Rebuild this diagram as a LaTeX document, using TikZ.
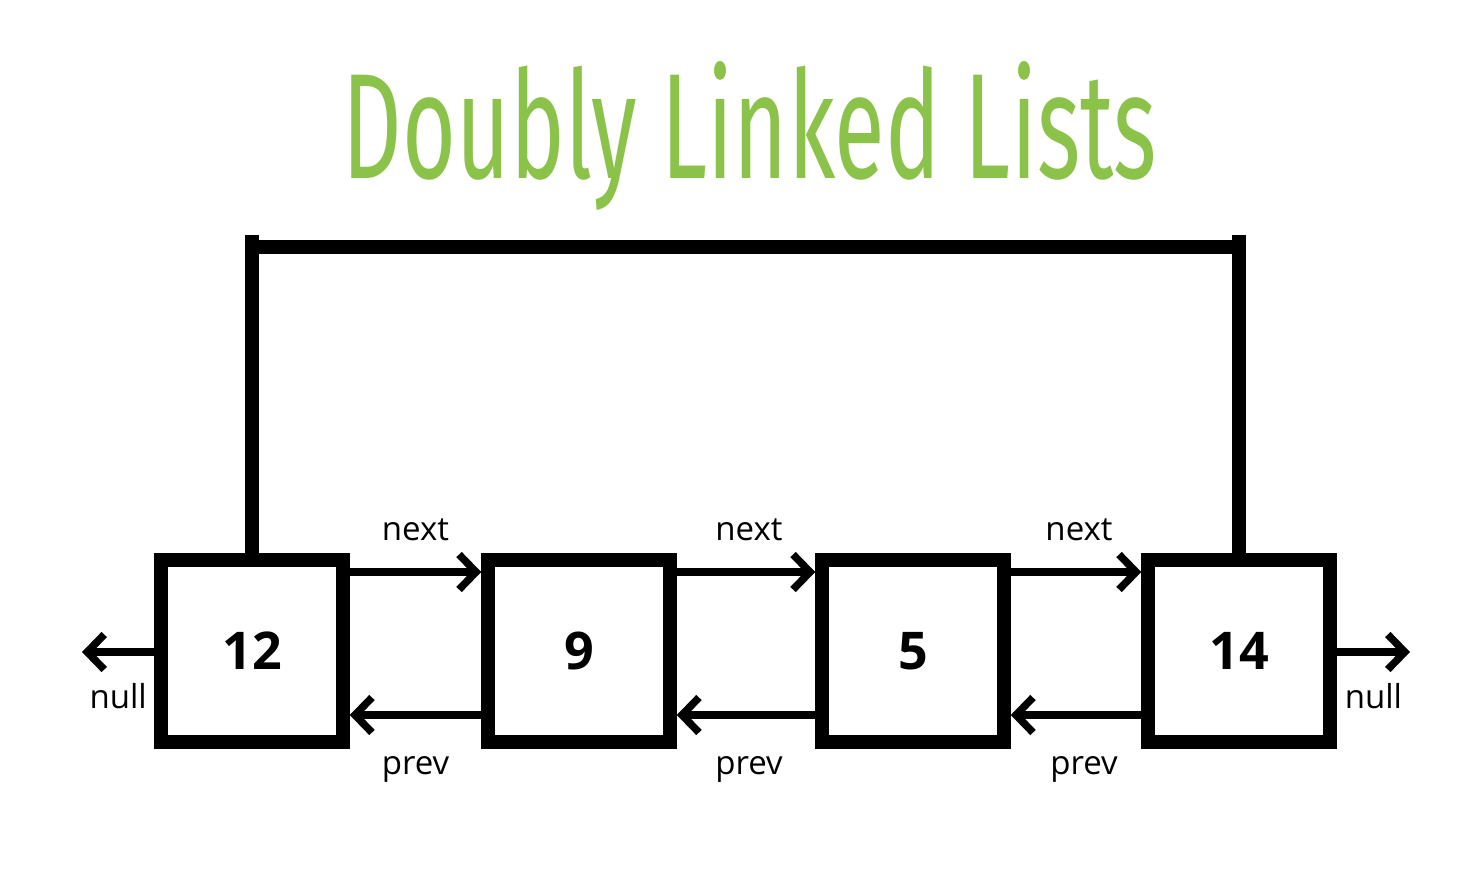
\documentclass[tikz,border=0pt]{standalone}
\usepackage{fontspec}
\setmainfont{Open Sans}
\newfontfamily\titlefont[FakeStretch=0.62]{Fira Sans}
\usetikzlibrary{arrows.meta}
\definecolor{titlegreen}{RGB}{139,195,74}

\begin{document}
\begin{tikzpicture}[x=1pt,y=-1pt,
                    link/.style={-{Straight Barb[length=17pt,width=35pt]},line width=7.5pt},
                    bar/.style={line width=14pt},
                    list node/.style={draw,line width=13.5pt,minimum size=182pt,inner sep=0pt,
                                      font=\fontsize{52}{52}\selectfont\bfseries},
                    label text/.style={font=\fontsize{33}{33}\selectfont,inner sep=0pt}]
\useasboundingbox (0,0) rectangle (1482,892);

\node[anchor=base,text=titlegreen,font=\titlefont\fontsize{150}{150}\selectfont] (title) at (750,178)
  {\resizebox{814pt}{\height}{Doubly Linked Lists}};

\node[list node] (n12) at (252,651) {12};
\node[list node] (n9) at (579,651) {9};
\node[list node] (n5) at (913,651) {5};
\node[list node] (n14) at (1239,651) {14};
\coordinate (null left) at (82,652);
\coordinate (null right) at (1410,652);

\draw[bar] (n12.north) -- ++(0,-318) coordinate (top left);
\draw[bar] (n14.north) -- ++(0,-318) coordinate (top right);
\draw[bar] ([yshift=-11.5pt]top left) -- ([yshift=-11.5pt]top right);

\draw[link] (n12.east |- 0,572) -- node[label text,above=27pt] {next} (n9.west |- 0,572);
\draw[link] (n9.east |- 0,572) -- node[label text,above=27pt,xshift=3pt] {next} (n5.west |- 0,572);
\draw[link] (n5.east |- 0,572) -- node[label text,above=27pt,xshift=3pt] {next} (n14.west |- 0,572);
\draw[link] (n9.west |- 0,715) -- node[label text,below=38pt] {prev} (n12.east |- 0,715);
\draw[link] (n5.west |- 0,715) -- node[label text,below=38pt,xshift=3pt] {prev} (n9.east |- 0,715);
\draw[link] (n14.west |- 0,715) -- node[label text,below=38pt,xshift=8pt] {prev} (n5.east |- 0,715);
\draw[link] (n12.west |- null left) -- node[label text,below=28pt] {null} (null left);
\draw[link] (n14.east |- null right) -- node[label text,below=28pt] {null} (null right);
\end{tikzpicture}
\end{document}
